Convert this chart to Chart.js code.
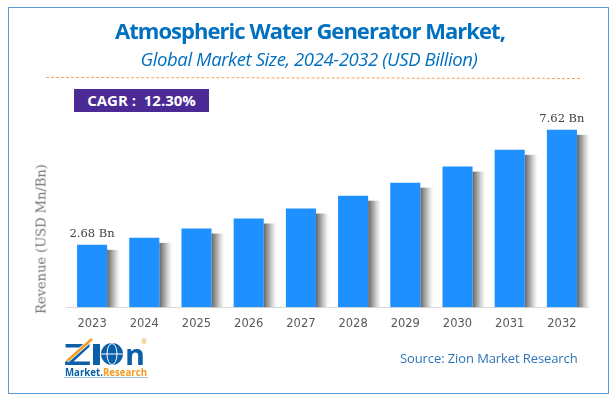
<!DOCTYPE html>
<html>
<head>
<meta charset="utf-8">
<script src="https://cdn.jsdelivr.net/npm/chart.js@4"></script>
<style>
  html, body { margin: 0; padding: 0; background: #fff; }
  #wrap { position: relative; width: 616px; height: 402px; overflow: hidden; }
  #frame { position: absolute; left: 8px; top: 7px; width: 599px; height: 385px; border: 1px solid #5b9bd5; }
  canvas { position: absolute; left: 0; top: 0; }
  svg { position: absolute; left: 0; top: 0; }
  .t { position: absolute; white-space: nowrap; }
  #title { left: 0; width: 620px; text-align: center; top: 15px; font: bold 22px "Open Sans", sans-serif; color: #0070c0; letter-spacing: -0.97px; }
  #subtitle { left: 0; width: 618px; text-align: center; top: 46px; font: italic 18.5px "Open Sans", sans-serif; color: #0070c0; letter-spacing: -0.4px; }
  #rule { position: absolute; left: 46px; top: 77px; width: 534px; border-top: 1px dashed #f4a460; transform: rotate(0.1deg); transform-origin: left; }
  #cagr { position: absolute; left: 74px; top: 89px; width: 135px; height: 23px; background: #4b2a96; color: #fff; font: bold 15px/23px "Open Sans", sans-serif; text-align: center; }
  #source { left: 400px; top: 349px; font: 13px "Open Sans", sans-serif; color: #2e75b6; letter-spacing: -0.1px; }
  #ytitle { left: 41px; top: 239px; transform: translate(-50%, -50%) rotate(-90deg); font: 13px "DejaVu Serif", serif; color: #707070; }
</style>
</head>
<body>
<div id="wrap">
  <div id="frame"></div>
  <canvas id="marketChart" width="616" height="402"></canvas>
  <div class="t" id="title">Atmospheric Water Generator Market,</div>
  <div class="t" id="subtitle">Global Market Size, 2024-2032 (USD Billion)</div>
  <div id="rule"></div>
  <div id="cagr">CAGR :&nbsp; 12.30%</div>
  <div class="t" id="ytitle">Revenue (USD Mn/Bn)</div>
  <div class="t" id="source">Source: Zion Market Research</div>
  <svg width="616" height="402">
    <text x="64" y="365" font-family="Open Sans" font-weight="bold" font-size="29" fill="#0b5ea8" textLength="27" lengthAdjust="spacingAndGlyphs">Z</text>
    <rect x="93" y="344" width="7" height="21" fill="#0b5ea8"/>
    <line x1="67" y1="361" x2="92" y2="339" stroke="#fff" stroke-width="4"/>
    <line x1="67" y1="361" x2="92" y2="339" stroke="#f59a23" stroke-width="2.5"/>
    <circle cx="112" cy="354" r="11" fill="#0b5ea8"/>
    <ellipse cx="112" cy="354" rx="5" ry="10.5" fill="none" stroke="#fff" stroke-width="1"/>
    <line x1="101" y1="354" x2="123" y2="354" stroke="#fff" stroke-width="1"/>
    <text x="125" y="365" font-family="Open Sans" font-weight="bold" font-size="29" fill="#0b5ea8" textLength="20" lengthAdjust="spacingAndGlyphs">n</text>
    <text x="141" y="344" font-family="Open Sans" font-size="7" fill="#f59a23">®</text>
    <text x="65" y="376" font-family="Open Sans" font-weight="bold" font-size="10" textLength="82" lengthAdjust="spacingAndGlyphs" fill="#0b5ea8">Market.<tspan fill="#f59a23">Research</tspan></text>
    <line x1="64" y1="377.5" x2="148" y2="377.5" stroke="#9dc3e6" stroke-width="1"/>
  </svg>
</div>

<script>
// Values
const years = ['2023', '2024', '2025', '2026', '2027', '2028', '2029', '2030', '2031', '2032'];
const revenue = [2.68, 2.98, 3.38, 3.81, 4.24, 4.79, 5.35, 6.04, 6.76, 7.62];
const valueLabels = ['2.68 Bn', '', '', '', '', '', '', '', '', '7.62 Bn'];

// soft grey shadow on the right of every bar
const barShadow = {
    id: 'barShadow',
    beforeDatasetsDraw(chart) {
        const ctx = chart.ctx;
        chart.getDatasetMeta(0).data.forEach(bar => {
            const left = bar.x + bar.width / 2;
            const grad = ctx.createLinearGradient(left, 0, left + 14, 0);
            grad.addColorStop(0, 'rgba(100,100,100,1)');
            grad.addColorStop(0.4, 'rgba(165,165,165,0.9)');
            grad.addColorStop(0.75, 'rgba(225,225,225,0.7)');
            grad.addColorStop(1, 'rgba(255,255,255,0)');
            ctx.fillStyle = grad;
            ctx.fillRect(left, bar.y + 5, 14, bar.base - bar.y - 5);
        });
    }
};

// labels above the first and last bar
const barLabels = {
    id: 'barLabels',
    afterDatasetsDraw(chart) {
        const ctx = chart.ctx;
        ctx.save();
        ctx.font = '11.5px "DejaVu Serif", serif';
        ctx.fillStyle = '#404040';
        ctx.textAlign = 'center';
        ctx.textBaseline = 'bottom';
        chart.getDatasetMeta(0).data.forEach((bar, i) => {
            if (valueLabels[i]) ctx.fillText(valueLabels[i], bar.x, bar.y - 5);
        });
        ctx.restore();
    }
};

new Chart(document.getElementById('marketChart').getContext('2d'), {
    type: 'bar',
    data: {
        labels: years,
        datasets: [{
            data: revenue,
            backgroundColor: '#1e90ff',
            barPercentage: 0.576,
            categoryPercentage: 1
        }]
    },
    options: {
        responsive: false,
        animation: false,
        layout: { padding: { left: 66, right: 28, top: 121, bottom: 61 } },
        plugins: { legend: { display: false }, tooltip: { enabled: false } },
        scales: {
            x: {
                grid: { display: false, drawTicks: false },
                border: { color: '#d9d9d9', width: 1 },
                ticks: { color: '#595959', font: { size: 11.5, family: '"DejaVu Sans", sans-serif' }, padding: 10, maxRotation: 0 }
            },
            y: {
                display: false,
                min: 0,
                max: 8
            }
        }
    },
    plugins: [barShadow, barLabels]
});
</script>
</body>
</html>
